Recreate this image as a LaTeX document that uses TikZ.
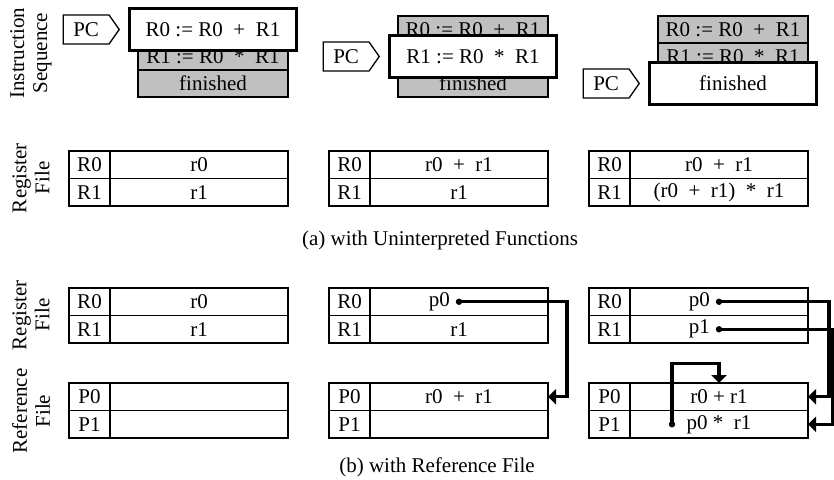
\documentclass[tikz,border=0pt]{standalone}
\usepackage{fontspec}
\setmainfont{Liberation Serif}
\usepackage{tikz}
\usetikzlibrary{arrows.meta,positioning,calc,shapes.symbols}
\definecolor{cInstr}{HTML}{C0C0C0}
\tikzset{
  instr/.style={draw,fill=cInstr,line width=0.65pt,minimum width=75pt,minimum height=13.5pt,inner sep=0pt,outer sep=0pt},
  cur/.style={draw,fill=white,line width=1.5pt,minimum width=83.5pt,minimum height=21pt,inner sep=0pt},
  pcbox/.style={signal,signal to=east,signal pointer angle=110,draw,fill=white,line width=0.65pt,minimum width=28pt,minimum height=14.5pt,inner sep=2pt},
  rname/.style={draw,line width=0.65pt,minimum width=20.5pt,minimum height=13.75pt,inner sep=0pt,outer sep=0pt},
  rval/.style={draw,line width=0.65pt,minimum width=89pt,minimum height=13.75pt,inner sep=0pt,outer sep=0pt},
  side/.style={rotate=90,align=center,inner sep=0pt},
  ptr/.style={-{Triangle[length=4pt,width=7.5pt]},line width=1.6pt},
}

\begin{document}
\begin{tikzpicture}[x=0.5pt,y=-0.5pt,font=\fontsize{10.5}{11.5}\selectfont]
\useasboundingbox (0,0) rectangle (834,479);
\node[side] (seqlbl) at (31,53) {Instruction\\Sequence};
\node[side] (rflbla) at (31,178) {Register\\File};
\node[side] (rflblb) at (31,315) {Register\\File};
\node[side] (reflbl) at (31,411) {Reference\\File};
\foreach \k in {1,2,3}{
  \pgfmathsetmacro\cx{69+(\k-1)*260}
  \node[instr] (ia\k) at (\cx+144,29.5) {R0 := R0~~+~~R1};
  \node[instr] (ib\k) at (\cx+144,56.5) {R1 := R0~~*~~R1};
  \node[instr] (ic\k) at (\cx+144,83.5) {finished};
}
\node[cur] (cur1) at (ia1) {R0 := R0~~+~~R1};
\node[cur] (cur2) at (ib2) {R1 := R0~~*~~R1};
\node[cur] (cur3) at (ic3) {finished};
\foreach \k in {1,2,3} \node[pcbox,left=4pt of cur\k] (pc\k) {PC};
\foreach \k/\va/\vb in {1/r0/r1,2/{r0~~+~~r1}/r1,3/{r0~~+~~r1}/{(r0~~+~~r1)~~*~~r1}}{
  \pgfmathsetmacro\cx{69+(\k-1)*260}
  \node[rname,anchor=north west] (un\k) at (\cx,151) {R0};
  \node[rval,right=0pt of un\k] (uv\k) {\va};
  \node[rname,below=0pt of un\k] (um\k) {R1};
  \node[rval,right=0pt of um\k] (uw\k) {\vb};
}
\node (capa) at (440,240) {(a) with Uninterpreted Functions};
\foreach \k in {1,2,3}{
  \pgfmathsetmacro\cx{69+(\k-1)*260}
  \node[rname,anchor=north west] (bn\k) at (\cx,288) {R0};
  \node[rval,right=0pt of bn\k] (bv\k) {};
  \node[rname,below=0pt of bn\k] (bm\k) {R1};
  \node[rval,right=0pt of bm\k] (bw\k) {};
  \node[rname,anchor=north west] (pn\k) at (\cx,383) {P0};
  \node[rval,right=0pt of pn\k] (pv\k) {};
  \node[rname,below=0pt of pn\k] (pm\k) {P1};
  \node[rval,right=0pt of pm\k] (pw\k) {};
}
\node (bt1a) at (bv1) {r0};
\node (bt1b) at (bw1) {r1};
\node[left=1pt] (bt2a) at (bv2) {p0};
\node (bt2b) at (bw2) {r1};
\node (pt2a) at (pv2) {r0~~+~~r1};
\node[left=1pt] (bt3a) at (bv3) {p0};
\node[left=1pt] (bt3b) at (bw3) {p1};
\node (pt3a) at (pv3) {r0 + r1};
\node (pt3b) at (pw3) {p0 * ~r1};
\coordinate (d2a) at (bv2.center);
\coordinate (d3a) at (bv3.center);
\coordinate (d3b) at (bw3.center);
\coordinate (d3c) at ($(pw3.center)+(-47,0)$);
\foreach \d in {d2a,d3a,d3b,d3c} \fill (\d) circle (1.6pt);
\draw[ptr] (d2a) -- ++(108,0) |- (pv2.east);
\draw[ptr] (d3a) -- ++(110,0) |- (pv3.east);
\draw[ptr] (d3b) -- ++(114,0) |- (pw3.east);
\draw[ptr] (d3c) -- ++(0,-61) -| (pv3.north);
\node (capb) at (437,467) {(b) with Reference File};
\end{tikzpicture}
\end{document}
